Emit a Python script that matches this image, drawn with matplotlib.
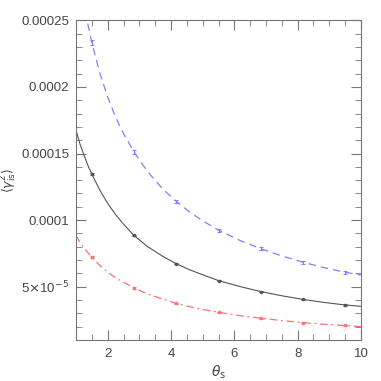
import matplotlib
matplotlib.use("Agg")
import matplotlib.pyplot as plt
from matplotlib.ticker import MultipleLocator, FixedLocator

# data points (theta_s, <gamma^2>)
theta_pts = [1.5, 2.83, 4.17, 5.5, 6.83, 8.17, 9.5]
blue_pts = [2.334e-4, 1.512e-4, 1.14e-4, 9.25e-5, 7.86e-5, 6.84e-5, 6.08e-5]
blue_err = [1.6e-6, 1.4e-6, 1.2e-6, 1.1e-6, 1.0e-6, 1.0e-6, 0.9e-6]
black_pts = [1.345e-4, 8.85e-5, 6.72e-5, 5.46e-5, 4.64e-5, 4.05e-5, 3.63e-5]
black_err = [0.7e-6, 0.6e-6, 0.5e-6, 0.5e-6, 0.5e-6, 0.4e-6, 0.4e-6]
red_pts = [7.21e-5, 4.91e-5, 3.75e-5, 3.08e-5, 2.64e-5, 2.31e-5, 2.09e-5]
red_err = [0.7e-6, 0.5e-6, 0.4e-6, 0.4e-6, 0.3e-6, 0.3e-6, 0.3e-6]

# model curves
curve_x = [1.0, 1.125, 1.25, 1.375, 1.5, 1.75, 2.0, 2.25, 2.5, 2.83, 3.25, 3.75, 4.17,
           4.6, 5.0, 5.5, 6.2, 6.83, 7.5, 8.17, 8.8, 9.5, 10.0]
blue_curve = [3.04e-4, 2.81e-4, 2.63e-4, 2.47e-4, 2.334e-4, 2.105e-4, 1.925e-4, 1.772e-4,
              1.65e-4, 1.512e-4, 1.367e-4, 1.231e-4, 1.14e-4, 1.059e-4, 9.95e-5, 9.25e-5,
              8.45e-5, 7.86e-5, 7.31e-5, 6.84e-5, 6.45e-5, 6.08e-5, 5.88e-5]
black_curve = [1.675e-4, 1.571e-4, 1.49e-4, 1.411e-4, 1.345e-4, 1.226e-4, 1.126e-4, 1.042e-4,
               9.7e-5, 8.85e-5, 8.03e-5, 7.27e-5, 6.72e-5, 6.26e-5, 5.9e-5, 5.46e-5,
               5.0e-5, 4.64e-5, 4.32e-5, 4.05e-5, 3.83e-5, 3.63e-5, 3.53e-5]
red_curve = [8.85e-5, 8.34e-5, 7.92e-5, 7.55e-5, 7.21e-5, 6.6e-5, 6.1e-5, 5.67e-5,
             5.34e-5, 4.91e-5, 4.47e-5, 4.06e-5, 3.75e-5, 3.495e-5, 3.29e-5, 3.08e-5,
             2.82e-5, 2.64e-5, 2.46e-5, 2.31e-5, 2.185e-5, 2.09e-5, 2.0e-5]

ytick_vals = [5e-5, 1e-4, 1.5e-4, 2e-4, 2.5e-4]
ytick_labels = [r"5$\times$10$^{-5}$", "0.0001", "0.00015", "0.0002", "0.00025"]
xtick_vals = [2, 4, 6, 8, 10]

plt.rcParams["font.family"] = ["Liberation Sans", "DejaVu Sans"]
plt.rcParams["mathtext.fontset"] = "dejavusans"

fig = plt.figure(figsize=(3.81, 3.81), dpi=100)
ax = fig.add_axes([0.1995, 0.1076, 0.748, 0.839])

blue = "#8080ff"
red = "#ff7070"
black = "#555555"

ax.plot(curve_x, blue_curve, color=blue, lw=0.9, ls=(0, (6, 4)))
ax.plot(curve_x, black_curve, color=black, lw=0.8, ls="-")
ax.plot(curve_x, red_curve, color=red, lw=0.9, ls=(0, (6, 3, 1.5, 3)))

ax.errorbar(theta_pts, blue_pts, yerr=blue_err, fmt="none", ecolor=blue, elinewidth=0.8, capsize=1.5, capthick=0.8)
ax.errorbar(theta_pts, black_pts, yerr=black_err, fmt="none", ecolor=black, elinewidth=0.8, capsize=1.5, capthick=0.8)
ax.errorbar(theta_pts, red_pts, yerr=red_err, fmt="none", ecolor=red, elinewidth=0.8, capsize=1.5, capthick=0.8)
ax.plot(theta_pts, black_pts, ls="none", marker="o", ms=1.5, color=black)
ax.plot(theta_pts, red_pts, ls="none", marker="o", ms=1.5, color=red)

ax.set_xlim(1, 10)
ax.set_ylim(1e-5, 2.5e-4)

ax.xaxis.set_major_locator(FixedLocator(xtick_vals))
ax.xaxis.set_minor_locator(MultipleLocator(0.5))
ax.yaxis.set_major_locator(FixedLocator(ytick_vals))
ax.set_yticklabels(ytick_labels)
ax.yaxis.set_minor_locator(MultipleLocator(1e-5))

for s in ax.spines.values():
    s.set_color("#777777")
    s.set_linewidth(0.8)
ax.tick_params(which="both", direction="in", top=True, right=True, colors="#777777",
               labelcolor="#444444", labelsize=9.5)
ax.tick_params(which="major", length=7, width=0.8)
ax.tick_params(axis="y", which="major", pad=5)
ax.tick_params(axis="x", which="major", pad=6)
ax.tick_params(which="minor", length=4, width=0.6)

ax.set_xlabel(r"$\theta_{\rm s}$", fontsize=10, color="#444444", labelpad=2)
ax.set_ylabel(r"$\langle\gamma^2_{\rm is}\rangle$", fontsize=9, color="#444444")
ax.yaxis.set_label_coords(-0.2, 0.5)

fig.savefig("out.png", dpi=100)
